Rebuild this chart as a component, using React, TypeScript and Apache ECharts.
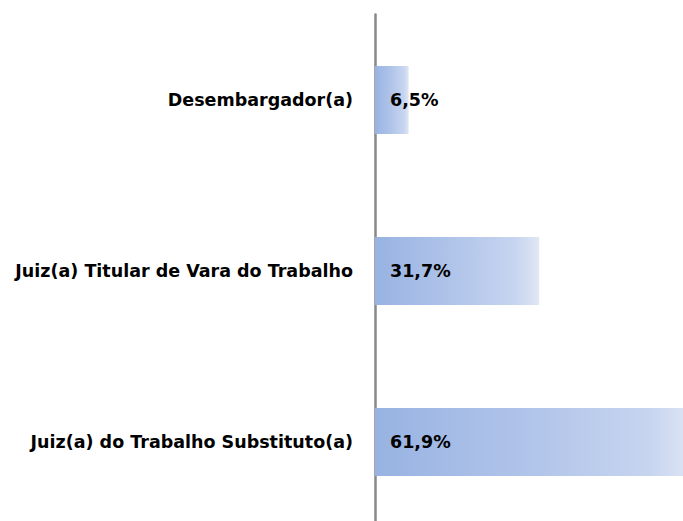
import React, { useEffect, useRef } from "react";
import * as echarts from "echarts";

const categories = [
  "Desembargador(a)",
  "Juiz(a) Titular de Vara do Trabalho",
  "Juiz(a) do Trabalho Substituto(a)",
];
const values = [6.5, 31.7, 61.9];

export default function App() {
  const ref = useRef<HTMLDivElement>(null);
  useEffect(() => {
    document.body.style.margin = "0";
    const chart = echarts.init(ref.current!, null, { renderer: "svg" });
    const gradient = new echarts.graphic.LinearGradient(0, 0, 1, 0, [
      { offset: 0, color: "#98b3e2" },
      { offset: 0.5, color: "#b2c5ea" },
      { offset: 0.85, color: "#c6d4ef" },
      { offset: 1, color: "#e0e7f5" },
    ]);
    chart.setOption({
      animation: false,
      backgroundColor: "#ffffff",
      grid: { left: 375, top: 14.5, height: 513, width: 362.6 },
      xAxis: {
        type: "value",
        min: 0,
        max: 70,
        show: false,
      },
      yAxis: {
        type: "category",
        data: categories,
        inverse: true,
        axisLine: { show: true, lineStyle: { color: "#888888", width: 2.5 } },
        axisTick: { show: false },
        axisLabel: {
          margin: 22,
          fontFamily: "DejaVu Sans",
          fontWeight: "bold",
          fontSize: 17.5,
          color: "#000000",
        },
      },
      series: [
        {
          type: "bar",
          data: values,
          barWidth: 68,
          itemStyle: { color: gradient },
          label: {
            show: true,
            position: "insideLeft",
            distance: 15,
            fontFamily: "DejaVu Sans",
            fontWeight: "bold",
            fontSize: 17.5,
            color: "#000000",
            formatter: (p: any) => String(p.value).replace(".", ",") + "%",
          },
        },
      ],
    });
    return () => chart.dispose();
  }, []);
  return (
    <div style={{ width: 683, height: 521, overflow: "hidden", position: "relative" }}>
      <div ref={ref} style={{ width: 760, height: 545 }} />
    </div>
  );
}
